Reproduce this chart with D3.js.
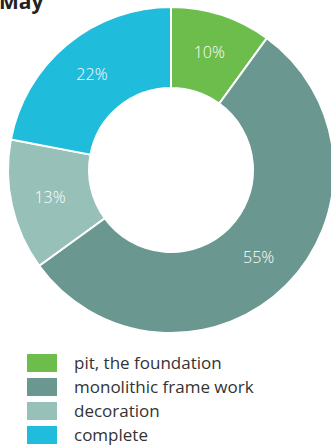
<!DOCTYPE html>
<html lang="en">
<head>
<meta charset="utf-8">
<script src="https://cdnjs.cloudflare.com/ajax/libs/d3/7.8.5/d3.min.js"></script>
<style>
  body { margin: 0; background: #fff; }
  svg { display: block; font-family: "Open Sans", Lato, sans-serif; }
</style>
</head>
<body>
<svg width="331" height="445"></svg>
<script>
// data
var categories = ["pit, the foundation", "monolithic frame work", "decoration", "complete"];
var values = [10, 55, 13, 22];
var colours = ["#6cbd4c", "#6a9891", "#96c0b8", "#1fbcdc"];
var title = "May";

var svg = d3.select("svg");
var cx = 171, cy = 170, outerR = 163, innerR = 82;

svg.append("text")
    .attr("x", -1).attr("y", 9)
    .attr("font-size", 21).attr("font-weight", "bold")
    .attr("fill", "#222")
    .text(title);

var pie = d3.pie().sort(null).value(function (d) { return d; });
var arc = d3.arc().innerRadius(innerR).outerRadius(outerR);
var labelArc = d3.arc().innerRadius(innerR + 42).outerRadius(innerR + 42);

var g = svg.append("g").attr("transform", "translate(" + cx + "," + cy + ")");
var arcs = pie(values);

g.selectAll("path").data(arcs).enter().append("path")
    .attr("d", arc)
    .attr("fill", function (d, i) { return colours[i]; })
    .attr("stroke", "#fff")
    .attr("stroke-width", 2);

g.selectAll("text").data(arcs).enter().append("text")
    .attr("transform", function (d) { return "translate(" + labelArc.centroid(d) + ")"; })
    .attr("text-anchor", "middle")
    .attr("dy", "0.35em")
    .attr("font-size", 16)
    .attr("font-weight", 300)
    .attr("fill", "#fff")
    .text(function (d) { return d.data + "%"; });

var legend = svg.append("g").attr("transform", "translate(27,354)");
var row = legend.selectAll("g").data(categories).enter().append("g")
    .attr("transform", function (d, i) { return "translate(0," + i * 24 + ")"; });
row.append("rect")
    .attr("width", 30).attr("height", 18)
    .attr("fill", function (d, i) { return colours[i]; });
row.append("text")
    .attr("x", 47).attr("y", 9).attr("dy", "0.35em")
    .attr("font-size", 17)
    .attr("fill", "#333")
    .text(function (d) { return d; });
</script>
</body>
</html>
